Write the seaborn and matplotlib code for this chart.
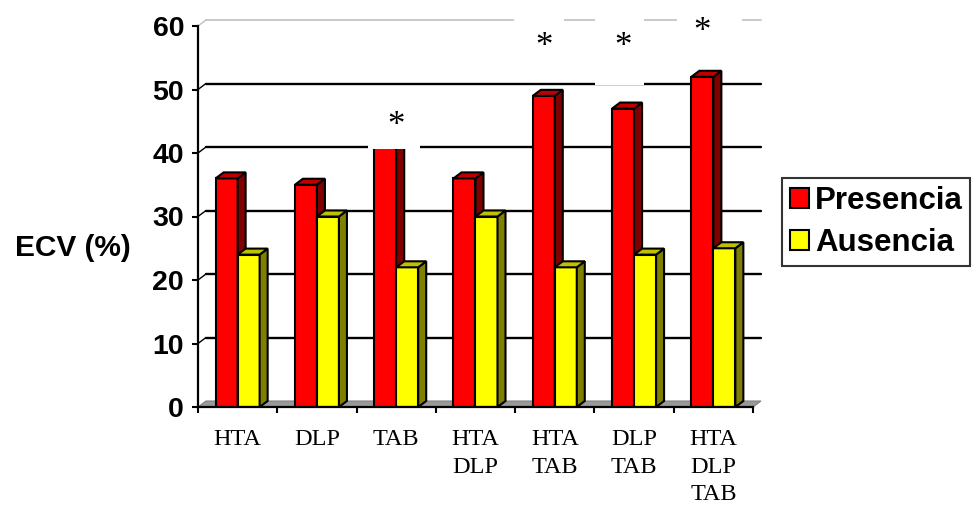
import matplotlib
matplotlib.use("Agg")
import matplotlib.pyplot as plt
from matplotlib.patches import Polygon, Rectangle, Patch
from matplotlib.transforms import IdentityTransform
import seaborn as sns
import pandas as pd
import numpy as np

# ---- data ----
categories = ["HTA", "DLP", "TAB", "HTA\nDLP", "HTA\nTAB", "DLP\nTAB", "HTA\nDLP\nTAB"]
presencia = [36, 35, 44, 36, 49, 47, 52]
ausencia = [24, 30, 22, 30, 22, 24, 25]
series_names = ["Presencia", "Ausencia"]
y_ticks = [0, 10, 20, 30, 40, 50, 60]
signif = [False, False, True, False, True, True, True]

df = pd.DataFrame({
    "cat": categories * 2,
    "grp": [series_names[0]] * len(categories) + [series_names[1]] * len(categories),
    "val": presencia + ausencia,
})

sns.set_theme(style="white")
plt.rcParams["font.family"] = ["Liberation Sans", "DejaVu Sans"]
for key in ["text.color", "xtick.color", "ytick.color", "axes.labelcolor"]:
    plt.rcParams[key] = "black"

W, H = 979, 532
fig = plt.figure(figsize=(W / 100, H / 100), dpi=100)
ax = fig.add_axes([198 / W, 1 - 407 / H, (753 - 198) / W, (407 - 26) / H])
ax.set_facecolor("white")

front_cols = ["#ff0000", "#ffff00"]
side_cols = ["#800000", "#808000"]
top_cols = ["#c00000", "#c0c000"]

sns.barplot(data=df, x="cat", y="val", hue="grp", palette=front_cols,
            width=0.555, edgecolor="black", linewidth=1.5, ax=ax, legend=False,
            saturation=1)

ax.set_xlim(-0.5, len(categories) - 0.5)
ax.set_ylim(0, 60)
ax.set_xlabel("")
ax.set_ylabel("")

# spines
for s in ["top", "right"]:
    ax.spines[s].set_visible(False)
for s in ["left", "bottom"]:
    ax.spines[s].set_color("black")
    ax.spines[s].set_linewidth(1.6)
    ax.spines[s].set_zorder(6)

ax.set_yticks(y_ticks)
ax.set_yticklabels([str(v) for v in y_ticks], fontsize=20.5, fontweight="bold", color="black")
ax.tick_params(axis="y", direction="out", length=4, width=1.5, color="black", pad=6, left=True)
ax.set_xticks(range(len(categories)))
ax.set_xticklabels(categories, fontsize=17.5, family=["Liberation Serif", "DejaVu Serif"],
                   linespacing=1.4, color="black")
ax.set_xticks(np.arange(-0.5, len(categories)), minor=True)
ax.tick_params(axis="x", which="major", length=0, pad=16)
ax.tick_params(axis="x", which="minor", direction="out", length=4.5, width=1.5,
               color="black", bottom=True)
ax.grid(False)

fig.canvas.draw()
td = ax.transData
DX, DY = 8, 6
ident = IdentityTransform()

# axes corners in display
xl, yb = td.transform((-0.5, 0))
xr, _ = td.transform((len(categories) - 0.5, 0))

# floor
floor = [(xl, yb), (xl + DX, yb + DY), (xr + DX, yb + DY), (xr, yb)]
ax.add_patch(Polygon(floor, closed=True, transform=ident, fc="#999999", ec="#808080",
                     lw=0.8, zorder=1, clip_on=False))

# back-wall gridlines and side-wall slants
for v in y_ticks[1:]:
    _, py = td.transform((0, v))
    col = "#c0c0c0" if v == y_ticks[-1] else "black"
    lw = 1.2 if v == y_ticks[-1] else 1.7
    ax.add_line(plt.Line2D([xl + DX, xr + DX], [py + DY, py + DY], transform=ident,
                           color=col, lw=lw, zorder=1.5, clip_on=False))
    ax.add_line(plt.Line2D([xl, xl + DX], [py, py + DY], transform=ident,
                           color="#c0c0c0" if v == y_ticks[-1] else "black", lw=1.0,
                           zorder=1.5, clip_on=False))

# 3D faces for bars
for k, cont in enumerate(ax.containers):
    zf = 3 + k * 0.2
    for bar in cont:
        bar.set_zorder(zf)
        x0, w, h = bar.get_x(), bar.get_width(), bar.get_height()
        px0, py0 = td.transform((x0, 0))
        px1, py1 = td.transform((x0 + w, h))
        side = [(px1, py0), (px1 + DX, py0 + DY), (px1 + DX, py1 + DY), (px1, py1)]
        top = [(px0, py1), (px0 + DX, py1 + DY), (px1 + DX, py1 + DY), (px1, py1)]
        ax.add_patch(Polygon(side, closed=True, transform=ident, fc=side_cols[k],
                             ec="black", lw=1.5, zorder=zf + 0.1, clip_on=False))
        ax.add_patch(Polygon(top, closed=True, transform=ident, fc=top_cols[k],
                             ec="black", lw=1.5, zorder=zf + 0.1, clip_on=False))

# significance markers with white text boxes (as in the original)
box_spec = {2: (-0.36, 0.30, 40.7, 49.0, 44.2),
            4: (-0.52, 0.11, 51.6, 61.5, 56.6),
            5: (-0.49, 0.13, 50.7, 61.5, 56.6),
            6: (-0.46, 0.36, 53.7, 61.5, 59.0)}
for i, flag in enumerate(signif):
    if not flag:
        continue
    x0r, x1r, yb0, yt0, ys = box_spec[i]
    ax.add_patch(Rectangle((i + x0r, yb0), x1r - x0r, yt0 - yb0, fc="white", ec="none",
                           zorder=8, clip_on=False))
    red_bar = ax.containers[0][i]
    xc = red_bar.get_x() + red_bar.get_width() / 2
    ax.text(xc + (0.13 if i == 2 else 0.0), ys, "*", ha="center", va="center",
            fontsize=25, family=["Liberation Serif", "DejaVu Serif"], zorder=9,
            clip_on=False, color="black")

# y label
fig.text(15 / W, 1 - 248 / H, "ECV (%)", fontsize=21.5, fontweight="bold",
         ha="left", va="center", color="black")

# legend
handles = [Patch(facecolor=c, edgecolor="black", linewidth=1.5) for c in front_cols]
leg = fig.legend(handles, series_names, loc="upper left",
                 bbox_to_anchor=(782 / W, 1 - 178 / H), borderaxespad=0,
                 prop={"size": 22.5, "weight": "bold"}, frameon=True, fancybox=False,
                 handlelength=0.6, handleheight=0.6, handletextpad=0.2,
                 borderpad=0.25, labelspacing=0.4, edgecolor="black")
leg.get_frame().set_linewidth(1.5)
for t in leg.get_texts():
    t.set_color("black")

fig.savefig("out.png", dpi=100, facecolor="white")
